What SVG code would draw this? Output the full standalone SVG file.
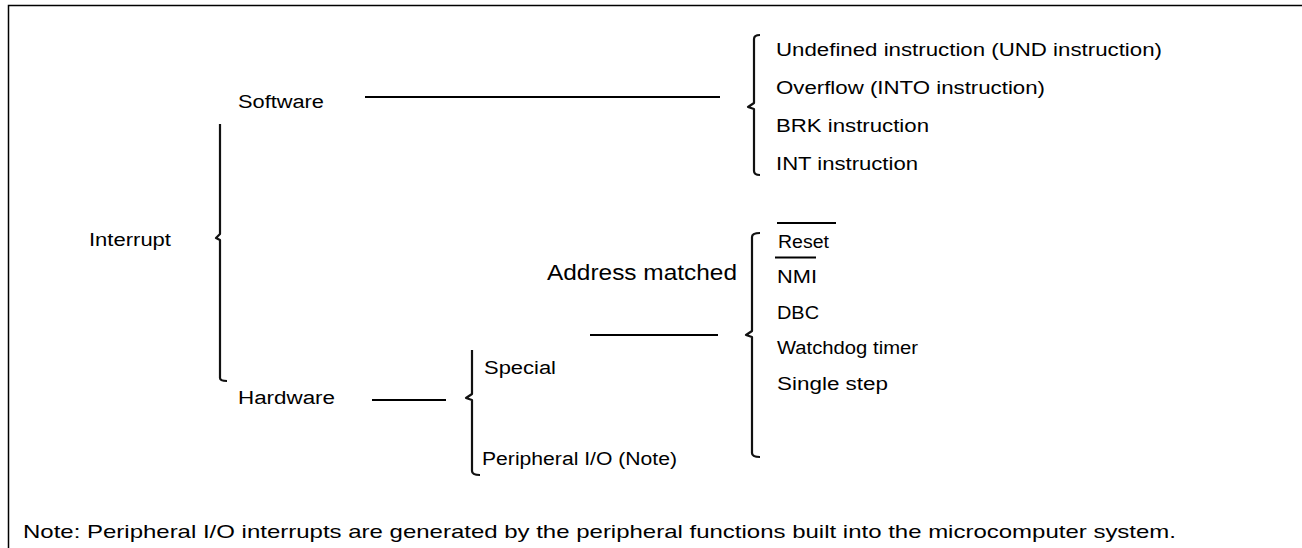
<svg xmlns="http://www.w3.org/2000/svg" width="1302" height="548" viewBox="0 0 1302 548">
<style>
text{font-family:"Liberation Sans",Arial,sans-serif;font-size:18px;fill:#000;dominant-baseline:central}
.big{font-size:22px}
.note{font-size:19px}
.ln{stroke:#000;stroke-width:2;fill:none}
.br{stroke:#111;stroke-width:2.2;fill:none;stroke-linejoin:round}
</style>
<rect width="1302" height="548" fill="#fff"/>
<path d="M8.5,548 V5.5 H1302" stroke="#000" stroke-width="1.5" fill="none"/>
<g id="interrupt"><text x="89" y="240" textLength="82" lengthAdjust="spacingAndGlyphs">Interrupt</text></g>
<g id="software"><text x="238" y="102" textLength="86" lengthAdjust="spacingAndGlyphs">Software</text></g>
<g id="hardware"><text x="238" y="398" textLength="97" lengthAdjust="spacingAndGlyphs">Hardware</text></g>
<g id="special"><text x="484" y="368" textLength="72" lengthAdjust="spacingAndGlyphs">Special</text></g>
<g id="peripheral"><text x="482" y="459" textLength="195" lengthAdjust="spacingAndGlyphs">Peripheral I/O (Note)</text></g>
<g id="address-matched"><text class="big" x="547" y="272" textLength="190" lengthAdjust="spacingAndGlyphs">Address matched</text></g>
<g id="software-list">
<text x="776" y="50" textLength="386" lengthAdjust="spacingAndGlyphs">Undefined instruction (UND instruction)</text>
<text x="776" y="88" textLength="269" lengthAdjust="spacingAndGlyphs">Overflow (INTO instruction)</text>
<text x="776" y="126" textLength="153" lengthAdjust="spacingAndGlyphs">BRK instruction</text>
<text x="776" y="164" textLength="142" lengthAdjust="spacingAndGlyphs">INT instruction</text>
</g>
<g id="special-list">
<text x="778" y="242" textLength="51" lengthAdjust="spacingAndGlyphs">Reset</text>
<line class="ln" x1="777" y1="223" x2="836" y2="223" stroke-width="1.8"/>
<text x="777" y="277" textLength="40" lengthAdjust="spacingAndGlyphs">NMI</text>
<line class="ln" x1="775" y1="257.5" x2="816" y2="257.5" stroke-width="1.8"/>
<text x="777" y="313" textLength="42" lengthAdjust="spacingAndGlyphs">DBC</text>
<text x="777" y="348" textLength="141" lengthAdjust="spacingAndGlyphs">Watchdog timer</text>
<text x="777" y="384" textLength="111" lengthAdjust="spacingAndGlyphs">Single step</text>
</g>
<g id="note"><text class="note" x="23" y="531" textLength="1153" lengthAdjust="spacingAndGlyphs">Note: Peripheral I/O interrupts are generated by the peripheral functions built into the microcomputer system.</text></g>
<g id="connectors">
<line class="ln" x1="365" y1="97" x2="720" y2="97"/>
<line class="ln" x1="372" y1="400" x2="446" y2="400"/>
<line class="ln" x1="590" y1="335" x2="718" y2="335"/>
<path class="br" d="M220,124 V234 L216,238 L220,240 V378 Q220,381 227,381"/>
<path class="br" d="M760,35 Q754,35 754,39 V103 L748,107 L754,109 V171 Q754,175 760,175"/>
<path class="br" d="M760,233 Q752,233 752,237 V331 L746,335 L752,337 V453 Q752,457 760,457"/>
<path class="br" d="M472,350 V394 L466,398 L472,400 V471 Q472,475 480,475"/>
</g>
</svg>
